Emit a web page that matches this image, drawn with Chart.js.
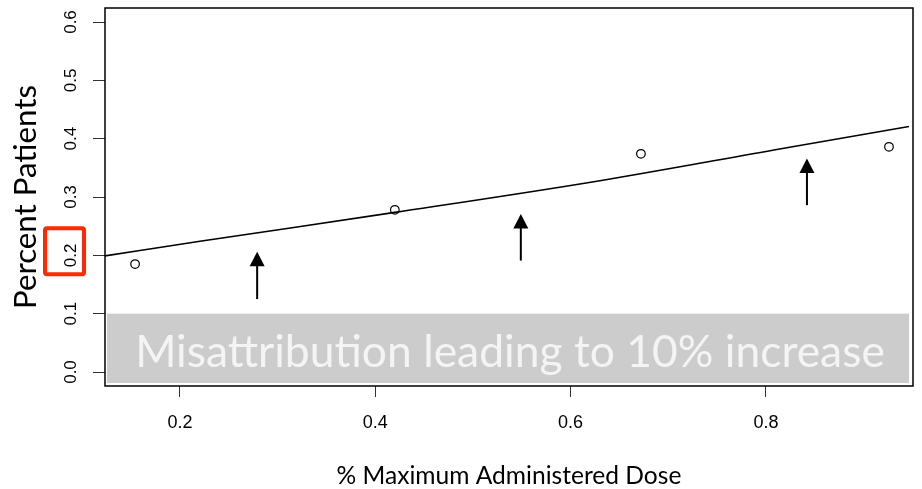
<!DOCTYPE html>
<html><head><meta charset="utf-8">
<script src="https://cdn.jsdelivr.net/npm/chart.js@4.4.1/dist/chart.umd.min.js"></script>
<style>html,body{margin:0;padding:0;background:#fff;} #wrap{width:922px;height:489px;position:relative;}</style>
</head><body><div id="wrap"><canvas id="c"></canvas></div>
<script>
// ---- data ----
const xTicks = [0.2, 0.4, 0.6, 0.8];
const yTicks = [0.0, 0.1, 0.2, 0.3, 0.4, 0.5, 0.6];
const doseObserved = [0.154, 0.420, 0.672, 0.926];
const pctObserved  = [0.185, 0.278, 0.374, 0.386];
const fitDose = [0.1232, 0.2205, 0.420, 0.630, 0.814, 0.9465];
const fitPct  = [0.199, 0.224, 0.2736, 0.328, 0.3823, 0.421];
const arrowDose = [0.279, 0.549, 0.842];
const arrowFrom = [0.125, 0.191, 0.286];
const arrowTo   = [0.206, 0.271, 0.366];
const xRange = [0.1232, 0.9506];
const yRange = [-0.024, 0.624];
const bannerText = 'Misattribution leading to 10% increase';
const bannerTopValue = 0.1;
const highlightTick = 0.2;
const xTitle = '% Maximum Administered Dose';
const yTitle = 'Percent Patients';

function fitSize(text, family, target) {
  const c = document.createElement('canvas').getContext('2d');
  c.font = '100px ' + family;
  return 100 * target / c.measureText(text).width;
}
const yTitleSize = fitSize(yTitle, 'Lato', 224);
const xTitleSize = fitSize(xTitle, 'Lato', 345);

const overlay = {
  id: 'overlay',
  afterDatasetsDraw(chart) {
    const {ctx, chartArea: a, scales: {x, y}} = chart;
    ctx.save();
    // banner
    const bTop = y.getPixelForValue(bannerTopValue);
    const bBot = a.bottom - 3;
    ctx.fillStyle = '#cccccc';
    ctx.fillRect(a.left + 2, bTop, a.right - a.left - 6, bBot - bTop);
    const bs = fitSize(bannerText, 'Lato', 750);
    ctx.font = bs + 'px Lato';
    ctx.fillStyle = '#f4f4f4';
    ctx.textAlign = 'center';
    ctx.textBaseline = 'alphabetic';
    ctx.fillText(bannerText, 510, 367);
    // arrows
    ctx.fillStyle = '#000'; ctx.strokeStyle = '#000';
    arrowDose.forEach((d, i) => {
      const px = x.getPixelForValue(d);
      const t = y.getPixelForValue(arrowFrom[i]);
      const h = y.getPixelForValue(arrowTo[i]);
      ctx.lineWidth = 2;
      ctx.beginPath(); ctx.moveTo(px, t); ctx.lineTo(px, h + 12); ctx.stroke();
      ctx.beginPath(); ctx.moveTo(px, h); ctx.lineTo(px - 7.5, h + 14.5); ctx.lineTo(px + 7.5, h + 14.5); ctx.closePath(); ctx.fill();
    });
    // box
    ctx.lineWidth = 1.5; ctx.strokeStyle = '#000';
    ctx.strokeRect(a.left, a.top, a.right - a.left, a.bottom - a.top);
    ctx.restore();
  },
  afterDraw(chart) {
    const {ctx, chartArea: a, scales: {y}} = chart;
    const cy = y.getPixelForValue(highlightTick) - 4;
    ctx.save();
    ctx.strokeStyle = '#ff2a00';
    ctx.lineWidth = 4;
    ctx.beginPath();
    if (ctx.roundRect) ctx.roundRect(a.left - 60, cy - 23, 39, 46, 2); else ctx.rect(a.left - 60, cy - 23, 39, 46);
    ctx.stroke();
    ctx.restore();
  }
};

new Chart(document.getElementById('c'), {
  type: 'scatter',
  data: {
    datasets: [
      {
        label: 'Observed',
        data: doseObserved.map((d, i) => ({x: d, y: pctObserved[i]})),
        pointStyle: 'circle', pointRadius: 4.3, pointHoverRadius: 4.3,
        borderColor: '#000', backgroundColor: 'rgba(0,0,0,0)', borderWidth: 1.2,
        showLine: false
      },
      {
        label: 'Fit',
        data: fitDose.map((d, i) => ({x: d, y: fitPct[i]})),
        showLine: true, pointRadius: 0, borderColor: '#000', borderWidth: 1.6,
        cubicInterpolationMode: 'monotone', fill: false
      }
    ]
  },
  options: {
    responsive: true, maintainAspectRatio: false, animation: false,
    devicePixelRatio: 1,
    layout: {padding: {top: 8, right: 9, left: 0, bottom: 0}},
    plugins: {legend: {display: false}, tooltip: {enabled: false}},
    scales: {
      x: {
        type: 'linear', min: xRange[0], max: xRange[1],
        afterBuildTicks: s => { s.ticks = xTicks.map(v => ({value: v})); },
        afterFit: s => { s.height = 103; s.paddingLeft = 0; s.paddingRight = 0; },
        grid: {display: true, drawOnChartArea: false, drawTicks: true, tickLength: 11, color: '#333', lineWidth: 1},
        border: {display: false},
        ticks: {font: {family: 'Liberation Sans', size: 18}, color: '#000', padding: 15, maxRotation: 0, minRotation: 0,
                callback: v => v.toFixed(1)},
        title: {display: true, text: xTitle, color: '#000', font: {family: 'Lato', size: xTitleSize}, padding: {top: 0, bottom: -2}}
      },
      y: {
        type: 'linear', min: yRange[0], max: yRange[1],
        afterBuildTicks: s => { s.ticks = yTicks.map(v => ({value: v})); },
        afterFit: s => { s.width = 105; s.paddingTop = 0; s.paddingBottom = 0; },
        grid: {display: true, drawOnChartArea: false, drawTicks: true, tickLength: 12, color: '#333', lineWidth: 1},
        border: {display: false},
        ticks: {font: {family: 'Liberation Sans', size: 17}, color: '#000', padding: 10, minRotation: 90, maxRotation: 90,
                crossAlign: 'center', callback: v => v.toFixed(1)},
        title: {display: true, text: yTitle, color: '#000', font: {family: 'Lato', size: yTitleSize}, padding: {top: 7, bottom: 0}}
      }
    }
  },
  plugins: [overlay]
});
</script>
</body></html>
